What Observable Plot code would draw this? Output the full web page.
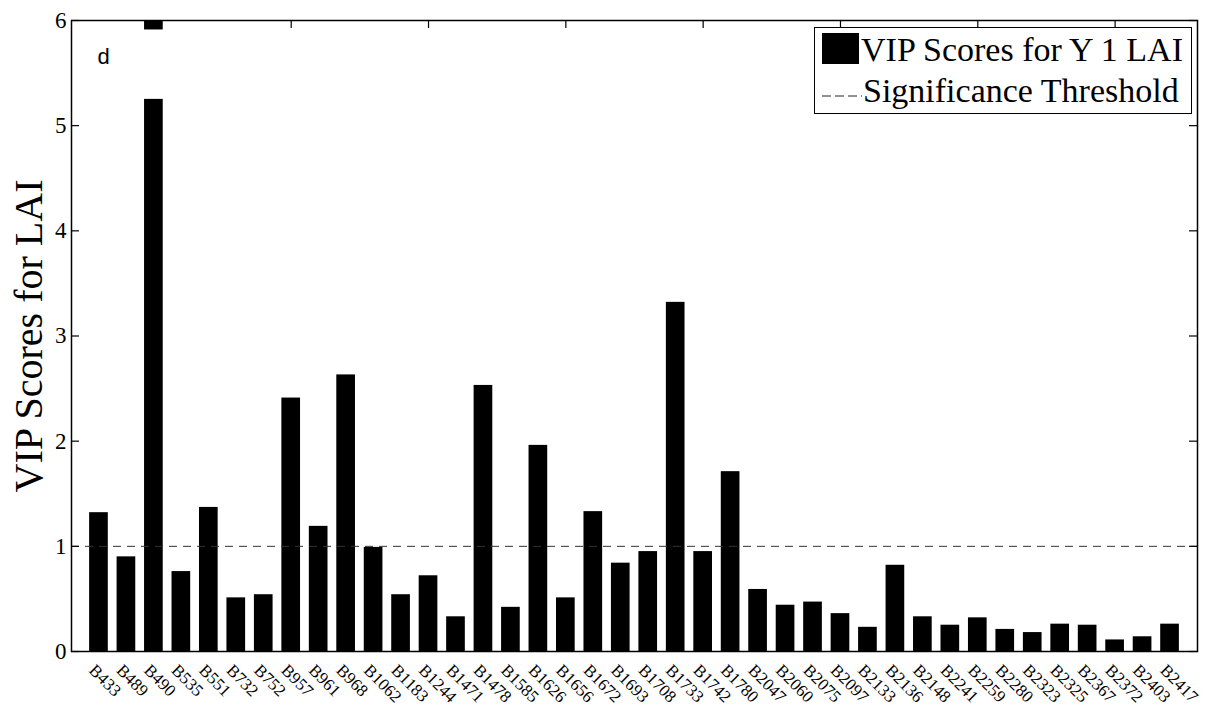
<!DOCTYPE html>
<html>
<head>
<meta charset="utf-8">
<script src="https://cdn.jsdelivr.net/npm/d3@7"></script>
<script src="https://cdn.jsdelivr.net/npm/@observablehq/plot@0.6"></script>
<style>
  html, body { margin: 0; padding: 0; background: #fff; }
  #wrap { position: relative; width: 1208px; height: 713px; overflow: hidden; }
  #legend {
    position: absolute; left: 814px; top: 27px; width: 378px; height: 87px;
    border: 1px solid #000; background: #fff; box-sizing: border-box;
    font-family: "Liberation Serif", "Times New Roman", serif; font-size: 34px; color: #000;
  }
  #legend .row { position: absolute; left: 0; white-space: nowrap; line-height: 1; }
  #legend .sw { position: absolute; left: 7px; width: 37px; height: 31px; background: #000; }
  #legend svg.dash { position: absolute; left: 7px; }
</style>
</head>
<body>
<div id="wrap">
  <div id="chart"></div>
  <div id="legend">
    <div class="sw" style="top:5px"></div>
    <div class="row" style="left:46px; top:5px">VIP Scores for Y 1 LAI</div>
    <svg class="dash" width="40" height="4" style="top:66px"><line x1="0" y1="2" x2="40" y2="2" stroke="#222" stroke-width="1" stroke-dasharray="9,4"/></svg>
    <div class="row" style="left:48px; top:46px">Significance Threshold</div>
  </div>
</div>
<script>
// Band names (categories)
const bands = ["B433","B489","B490","B535","B551","B732","B752","B957","B961","B968",
  "B1062","B1183","B1244","B1471","B1478","B1585","B1626","B1656","B1672","B1693",
  "B1708","B1733","B1742","B1780","B2047","B2060","B2075","B2097","B2133","B2136",
  "B2148","B2241","B2259","B2280","B2323","B2325","B2367","B2372","B2403","B2417"];
// VIP scores for LAI
const vip = [1.32,0.90,5.25,0.76,1.37,0.51,0.54,2.41,1.19,2.63,
  0.99,0.54,0.72,0.33,2.53,0.42,1.96,0.51,1.33,0.84,
  0.95,3.32,0.95,1.71,0.59,0.44,0.47,0.36,0.23,0.82,
  0.33,0.25,0.32,0.21,0.18,0.26,0.25,0.11,0.14,0.26];
// clipped upper piece of the B490 bar (runs off the top of the axes)
const clippedPiece = [{band: "B490", from: 5.91, to: 6}];
const threshold = [1];
const yTicks = [0,1,2,3,4,5,6];
const xTopTicks = [3,8,13,18,23,28,33,38];
const panelLabel = ["d"];
const yLabel = ["VIP Scores for LAI"];

const W = 1208, H = 713, mL = 71, mR = 11, mT = 20, mB = 62;
const innerW = W - mL - mR, innerH = H - mT - mB, tick = 8, half = 0.34;

const bars = bands.map((b, i) => ({band: b, i: i + 1, v: vip[i]}));
const pieces = clippedPiece.map(d => ({i: bands.indexOf(d.band) + 1, from: d.from, to: d.to}));
const serif = "Liberation Serif, Times New Roman, serif";

const chart = Plot.plot({
  width: W, height: H,
  marginLeft: mL, marginRight: mR, marginTop: mT, marginBottom: mB,
  style: {background: "#fff", fontFamily: serif, color: "#000"},
  x: {type: "linear", domain: [0, 41]},
  y: {domain: [0, 6]},
  marks: [
    Plot.rect(bars, {x1: d => d.i - half, x2: d => d.i + half, y1: 0, y2: "v", fill: "#000"}),
    Plot.rect(pieces, {x1: d => d.i - half, x2: d => d.i + half, y1: "from", y2: "to", fill: "#000"}),
    Plot.ruleY(threshold, {stroke: "#333", strokeWidth: 1, strokeDasharray: "8,6"}),
    // inward ticks
    Plot.ruleY(yTicks, {insetRight: innerW - tick, stroke: "#000", strokeWidth: 1.2}),
    Plot.ruleY(yTicks, {insetLeft: innerW - tick, stroke: "#000", strokeWidth: 1.2}),
    Plot.ruleX(xTopTicks, {insetBottom: innerH - tick, stroke: "#000", strokeWidth: 1.2}),
    Plot.ruleX(xTopTicks, {insetTop: innerH - tick, stroke: "#000", strokeWidth: 1.2}),
    Plot.axisY({ticks: yTicks, tickFormat: d3.format("d"), tickSize: 0, tickPadding: 5, fontSize: 23, label: null, fontFamily: serif}),
    Plot.axisX({ticks: bars.map(d => d.i), tickFormat: i => bands[i - 1], tickRotate: 45,
      tickSize: 0, tickPadding: 16, fontSize: 17, label: null, fontFamily: serif, dx: -7}),
    Plot.frame({stroke: "#000", strokeWidth: 1.5}),
    Plot.text(yLabel, {frameAnchor: "left", textAnchor: "middle", rotate: -90, dx: -42, fontSize: 40, fontFamily: serif, fill: "#000"}),
    Plot.text(panelLabel, {frameAnchor: "top-left", dx: 26, dy: 28, textAnchor: "start", lineAnchor: "top",
      fontSize: 22, fontFamily: "Liberation Sans, Arial, sans-serif", fill: "#000"})
  ]
});
document.getElementById("chart").appendChild(chart);
</script>
</body>
</html>
